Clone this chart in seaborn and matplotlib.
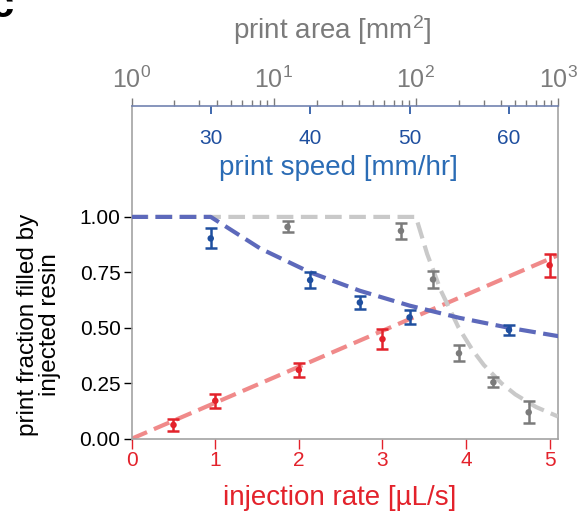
import numpy as np
import pandas as pd
import matplotlib
matplotlib.use("Agg")
import matplotlib.pyplot as plt
from matplotlib.ticker import LogLocator, FixedLocator, FixedFormatter, NullFormatter
import seaborn as sns

# ---------------- data ----------------
# injection rate series (bottom axis, red)
rate_x = [0.5, 1.0, 2.0, 3.0, 5.0]
rate_y = [0.062, 0.171, 0.310, 0.449, 0.782]
rate_err = [0.028, 0.032, 0.033, 0.044, 0.051]
rate_fit_x = [0.0, 5.1]
rate_fit_y = [0.0, 0.827]

# print speed series (top axis, blue)
speed_x = [30, 40, 45, 50, 60]
speed_y = [0.903, 0.715, 0.614, 0.547, 0.490]
speed_err = [0.045, 0.036, 0.030, 0.032, 0.024]
speed_fit_x = [22, 30, 35, 40, 45, 50, 55, 60, 65]
speed_fit_y = [1.0, 1.0, 0.857, 0.75, 0.667, 0.60, 0.545, 0.50, 0.462]

# print area series (top log axis, gray)
area_x = [12.5, 78.5, 132, 201, 351, 622]
area_y = [0.955, 0.937, 0.718, 0.385, 0.254, 0.119]
area_err = [0.025, 0.035, 0.039, 0.036, 0.023, 0.05]
area_fit_x = [1, 100, 120, 150, 200, 250, 300, 400, 500, 700, 1000]
area_fit_y = [1.0, 1.0, 0.833, 0.667, 0.50, 0.40, 0.333, 0.25, 0.20, 0.143, 0.10]

y_ticks = [0.0, 0.25, 0.5, 0.75, 1.0]
y_tick_labels = ["0.00", "0.25", "0.50", "0.75", "1.00"]
rate_ticks = [0, 1, 2, 3, 4, 5]
speed_ticks = [30, 40, 50, 60]
area_ticks = [1, 10, 100, 1000]
area_tick_labels = [r"$\mathregular{10^{0}}$", r"$\mathregular{10^{1}}$",
                    r"$\mathregular{10^{2}}$", r"$\mathregular{10^{3}}$"]

# ---------------- style ----------------
sns.set_style("ticks")
plt.rcParams["font.family"] = ["Liberation Sans", "DejaVu Sans"]
plt.rcParams["mathtext.fontset"] = "custom"
plt.rcParams["mathtext.rm"] = "Liberation Sans"
plt.rcParams["mathtext.it"] = "Liberation Sans:italic"

RED = "#e3222b"
RED_L = "#f08a8a"
BLUE = "#1f4f9f"
BLUE_L = "#5d69bb"
GRAY = "#7b7b7b"
GRAY_L = "#c9c9c9"
SPINE = "#a3a3a3"
TOPLINE = "#7283b0"

W, H = 587, 511
fig = plt.figure(figsize=(W / 100, H / 100), dpi=100)
ax = fig.add_axes([131.7 / W, 1 - 438.7 / H, 426.3 / W, 332.7 / H])
ax_speed = ax.twiny()
ax_area = ax.twiny()
ax_speed.set_zorder(ax_area.get_zorder() + 1)

dash = (4, 1.8)
lw = 3.0

# red: injection rate
df_rate_fit = pd.DataFrame({"x": rate_fit_x, "y": rate_fit_y})
sns.lineplot(data=df_rate_fit, x="x", y="y", ax=ax, color=RED_L, lw=lw,
             zorder=2).lines[-1].set_dashes(dash)
df_rate = pd.DataFrame({"x": rate_x, "y": rate_y})
ax.errorbar(rate_x, rate_y, yerr=rate_err, fmt="none", ecolor=RED, elinewidth=1.8,
            capsize=4, capthick=1.8, zorder=3)
sns.scatterplot(data=df_rate, x="x", y="y", ax=ax, color=RED, s=22, edgecolor="none", zorder=4)

# blue: print speed
df_speed_fit = pd.DataFrame({"x": speed_fit_x, "y": speed_fit_y})
sns.lineplot(data=df_speed_fit, x="x", y="y", ax=ax_speed, color=BLUE_L, lw=lw,
             zorder=2).lines[-1].set_dashes(dash)
df_speed = pd.DataFrame({"x": speed_x, "y": speed_y})
ax_speed.errorbar(speed_x, speed_y, yerr=speed_err, fmt="none", ecolor=BLUE, elinewidth=1.8,
                  capsize=4, capthick=1.8, zorder=3)
sns.scatterplot(data=df_speed, x="x", y="y", ax=ax_speed, color=BLUE, s=22, edgecolor="none", zorder=4)

# gray: print area
df_area_fit = pd.DataFrame({"x": area_fit_x, "y": area_fit_y})
sns.lineplot(data=df_area_fit, x="x", y="y", ax=ax_area, color=GRAY_L, lw=lw,
             zorder=2).lines[-1].set_dashes(dash)
df_area = pd.DataFrame({"x": area_x, "y": area_y})
ax_area.errorbar(area_x, area_y, yerr=area_err, fmt="none", ecolor=GRAY, elinewidth=1.8,
                 capsize=4, capthick=1.8, zorder=3)
sns.scatterplot(data=df_area, x="x", y="y", ax=ax_area, color=GRAY, s=22, edgecolor="none", zorder=4)

# ---------------- main axes ----------------
ax.set_xlim(0, 5.1)
ax.set_ylim(0, 1.5)
ax.set_yticks(y_ticks)
ax.set_yticklabels(y_tick_labels)
ax.set_xticks(rate_ticks)
ax.tick_params(axis="y", direction="out", length=6, width=1, color="black",
               labelsize=15, labelcolor="black", pad=2)
ax.tick_params(axis="x", direction="out", length=7, width=1, color=RED,
               labelsize=15, labelcolor=RED, pad=2)
for s in ["left", "right", "bottom"]:
    ax.spines[s].set_visible(True)
    ax.spines[s].set_color(SPINE)
    ax.spines[s].set_linewidth(1.2)
ax.spines["top"].set_visible(False)
ax.set_xlabel("injection rate [µL/s]", fontsize=20, color=RED, labelpad=6)
ax.xaxis.set_label_coords(0.488, -0.14)
ax.set_ylabel("print fraction filled by\ninjected resin", fontsize=17.5, color="black",
              linespacing=1.05)
ax.yaxis.set_label_coords(-0.165, 0.342)

# ---------------- speed axis ----------------
ax_speed.set_xlim(22.05, 64.93)
ax_speed.set_xticks(speed_ticks)
ax_speed.tick_params(axis="x", which="both", direction="in", length=6, width=1.2,
                     color=BLUE, labelcolor=BLUE, labelsize=15, pad=-30)
for s in ["left", "right", "bottom"]:
    ax_speed.spines[s].set_visible(False)
ax_speed.spines["top"].set_color(TOPLINE)
ax_speed.spines["top"].set_linewidth(1.2)
ax_speed.set_xlabel("")
ax_speed.set_ylabel("")
ax_speed.text(0.484, 0.8137, "print speed [mm/hr]", transform=ax_speed.transAxes,
              fontsize=20, color="#2b6cb5", ha="center", va="center")

# ---------------- area axis ----------------
ax_area.set_xscale("log")
ax_area.set_xlim(1, 1000)
ax_area.xaxis.set_major_locator(FixedLocator(area_ticks))
ax_area.xaxis.set_major_formatter(FixedFormatter(area_tick_labels))
ax_area.xaxis.set_minor_locator(LogLocator(base=10, subs=np.arange(2, 10), numticks=20))
ax_area.xaxis.set_minor_formatter(NullFormatter())
ax_area.tick_params(axis="x", which="major", direction="out", length=6, width=1,
                    color=GRAY, labelcolor=GRAY, labelsize=18, pad=3)
ax_area.tick_params(axis="x", which="minor", direction="out", length=4.5, width=1,
                    color=GRAY)
for s in ["left", "right", "bottom", "top"]:
    ax_area.spines[s].set_visible(False)
ax_area.set_ylabel("")
ax_area.set_xlabel("print area [mm$^2$]", fontsize=20, color=GRAY, labelpad=16)
ax_area.xaxis.set_label_coords(0.471, 1.0 + (106 - 30) / 332.7)
ax_area.xaxis.label.set_va("center")

for a in (ax_speed, ax_area):
    a.set_ylim(0, 1.5)
    a.tick_params(axis="y", left=False, right=False, labelleft=False, labelright=False)

# panel letter (cropped in the reference)
fig.text(13 / W, 1 - 17 / H, "c", fontsize=30, weight="bold", ha="right",
         va="baseline", color="black")

fig.savefig("out.png", dpi=100)
